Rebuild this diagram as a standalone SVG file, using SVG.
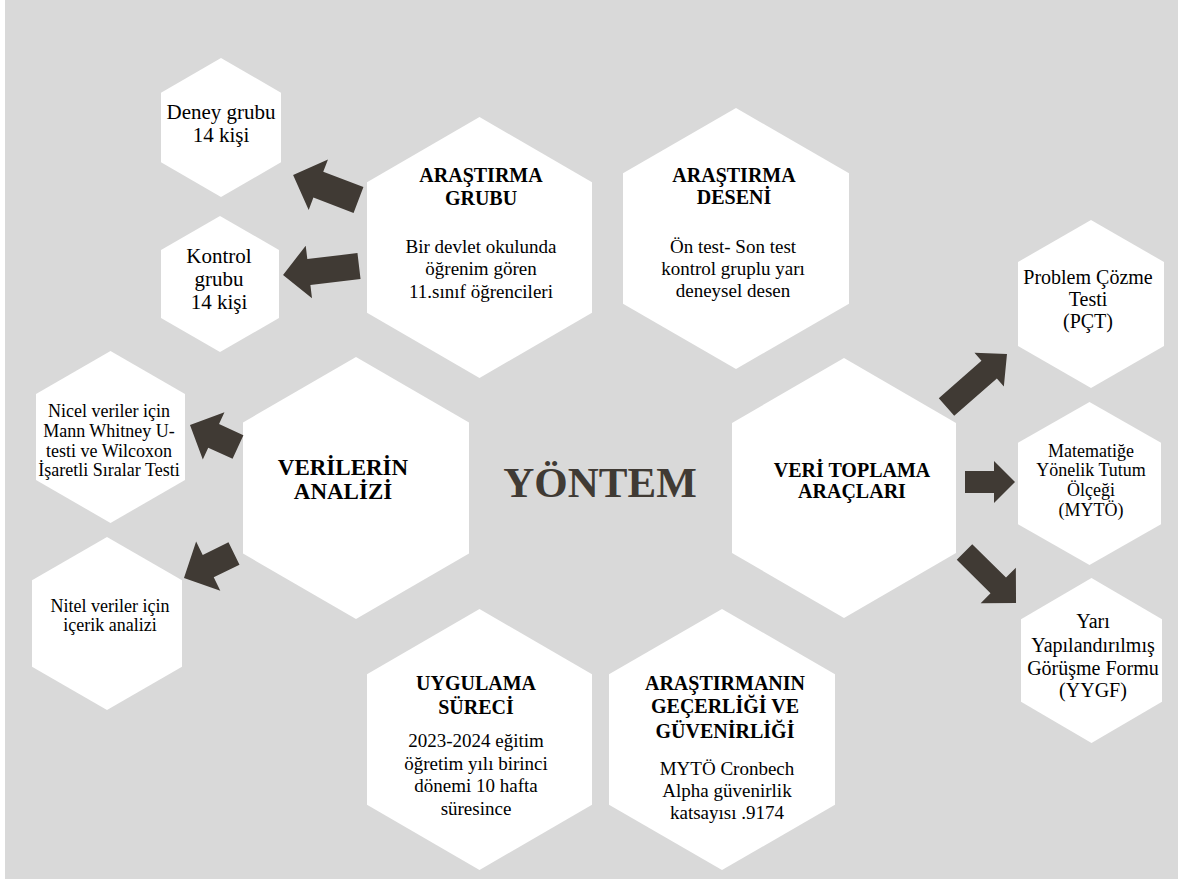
<svg xmlns="http://www.w3.org/2000/svg" width="1178" height="879" viewBox="0 0 1178 879">
<style>
.hex{fill:#ffffff;}
.arr{fill:#403a34;}
text{font-family:"Liberation Serif","Times New Roman",serif;fill:#000;text-anchor:middle;}
.t{font-weight:bold;font-size:20px;}
.b{font-size:19px;}
.s{font-size:20px;}
.m{font-size:18px;}
.main{font-weight:bold;font-size:43px;fill:#403a34;}
</style>
<rect x="0" y="0" width="1178" height="879" fill="#ffffff"/>
<rect x="5" y="0" width="1173" height="879" fill="#d9d9d9"/>

<g id="deney">
<polygon class="hex" points="221,58 281,92.75 281,162.25 221,197 161,162.25 161,92.75"/>
<text class="s" x="221" y="119" style="font-size:21px">Deney grubu</text>
<text class="s" x="221" y="142" style="font-size:21px">14 kişi</text>
</g>
<g id="kontrol">
<polygon class="hex" points="220,216 279,250 279,318 220,352 161,318 161,250"/>
<text class="s" x="219" y="263" style="font-size:21px">Kontrol</text>
<text class="s" x="219" y="286" style="font-size:21px">grubu</text>
<text class="s" x="219" y="309" style="font-size:21px">14 kişi</text>
</g>
<g id="arastirma-grubu">
<polygon class="hex" points="479.5,117 592,182.25 592,312.75 479.5,378 367,312.75 367,182.25"/>
<text class="t" x="481" y="182">ARAŞTIRMA</text>
<text class="t" x="481" y="205">GRUBU</text>
<text class="b" x="481" y="253">Bir devlet okulunda</text>
<text class="b" x="481" y="275">öğrenim gören</text>
<text class="b" x="481" y="298">11.sınıf öğrencileri</text>
</g>
<g id="arastirma-deseni">
<polygon class="hex" points="736,108 849,173.25 849,303.75 736,369 623,303.75 623,173.25"/>
<text class="t" x="734" y="182">ARAŞTIRMA</text>
<text class="t" x="734" y="204">DESENİ</text>
<text class="b" x="733" y="253">Ön test- Son test</text>
<text class="b" x="733" y="275">kontrol gruplu yarı</text>
<text class="b" x="733" y="297">deneysel desen</text>
</g>
<g id="nicel">
<polygon class="hex" points="110.5,351 185,394 185,480 110.5,523 36,480 36,394"/>
<text class="m" x="109" y="417">Nicel veriler için</text>
<text class="m" x="109" y="437">Mann Whitney U-</text>
<text class="m" x="109" y="457">testi ve Wilcoxon</text>
<text class="m" x="109" y="476">İşaretli Sıralar Testi</text>
</g>
<g id="nitel">
<polygon class="hex" points="107,537 182,580.25 182,666.75 107,710 32,666.75 32,580.25"/>
<text class="m" x="110" y="612">Nitel veriler için</text>
<text class="m" x="110" y="631">içerik analizi</text>
</g>
<g id="verilerin-analizi">
<polygon class="hex" points="356,357 469,422.5 469,553.5 356,619 243,553.5 243,422.5"/>
<text class="t" x="343" y="475" style="font-size:23px">VERİLERİN</text>
<text class="t" x="343" y="499" style="font-size:23px">ANALİZİ</text>
</g>
<g id="yontem">
<text class="main" x="600" y="497">YÖNTEM</text>
</g>
<g id="veri-toplama">
<polygon class="hex" points="844,358 956,423 956,553 844,618 732,553 732,423"/>
<text class="t" x="852" y="477">VERİ TOPLAMA</text>
<text class="t" x="852" y="498">ARAÇLARI</text>
</g>
<g id="pct">
<polygon class="hex" points="1091,220 1164,262 1164,346 1091,388 1018,346 1018,262"/>
<text class="s" x="1088" y="284">Problem Çözme</text>
<text class="s" x="1088" y="306">Testi</text>
<text class="s" x="1088" y="328">(PÇT)</text>
</g>
<g id="myto">
<polygon class="hex" points="1089.5,402 1161,442.75 1161,524.25 1089.5,565 1018,524.25 1018,442.75"/>
<text class="m" x="1091" y="457">Matematiğe</text>
<text class="m" x="1091" y="476">Yönelik Tutum</text>
<text class="m" x="1091" y="496">Ölçeği</text>
<text class="m" x="1091" y="516">(MYTÖ)</text>
</g>
<g id="yygf">
<polygon class="hex" points="1091.5,578 1162,619.25 1162,701.75 1091.5,743 1021,701.75 1021,619.25"/>
<text class="s" x="1093" y="628">Yarı</text>
<text class="s" x="1093" y="652">Yapılandırılmış</text>
<text class="s" x="1093" y="675">Görüşme Formu</text>
<text class="s" x="1093" y="697">(YYGF)</text>
</g>
<g id="uygulama">
<polygon class="hex" points="479.5,609 592,674.25 592,804.75 479.5,870 367,804.75 367,674.25"/>
<text class="t" x="476" y="690">UYGULAMA</text>
<text class="t" x="476" y="714">SÜRECİ</text>
<text class="b" x="476" y="747">2023-2024 eğitim</text>
<text class="b" x="476" y="770">öğretim yılı birinci</text>
<text class="b" x="476" y="792">dönemi 10 hafta</text>
<text class="b" x="476" y="815">süresince</text>
</g>
<g id="gecerlik">
<polygon class="hex" points="722,609 835,674.25 835,804.75 722,870 609,804.75 609,674.25"/>
<text class="t" x="725" y="690">ARAŞTIRMANIN</text>
<text class="t" x="725" y="713">GEÇERLİĞİ VE</text>
<text class="t" x="725" y="738">GÜVENİRLİĞİ</text>
<text class="b" x="727" y="775">MYTÖ Cronbech</text>
<text class="b" x="727" y="797">Alpha güvenirlik</text>
<text class="b" x="727" y="819">katsayısı .9174</text>
</g>

<g id="connectors">
<polygon class="arr" transform="translate(358.5,200) rotate(200.9)" points="0,-13.8 43,-13.8 43,-27 70,0 43,27 43,13.8 0,13.8"/>
<polygon class="arr" transform="translate(359,266) rotate(173.2)" points="0,-13 50.5,-13 50.5,-26.5 76.5,0 50.5,26.5 50.5,13 0,13"/>
<polygon class="arr" transform="translate(238,447) rotate(204.6)" points="0,-13 26.8,-13 26.8,-26 52.8,0 26.8,26 26.8,13 0,13"/>
<polygon class="arr" transform="translate(234,553.5) rotate(153.9)" points="0,-12.5 28.7,-12.5 28.7,-27.5 55.7,0 28.7,27.5 28.7,12.5 0,12.5"/>
<polygon class="arr" transform="translate(946.5,407) rotate(-41.2)" points="0,-11.7 56.7,-11.7 56.7,-22.3 80.4,0 56.7,22.3 56.7,11.7 0,11.7"/>
<polygon class="arr" transform="translate(965,482)" points="0,-11 29,-11 29,-21 50,0 29,21 29,11 0,11"/>
<polygon class="arr" transform="translate(964.5,552) rotate(44.7)" points="0,-11 47.5,-11 47.5,-25 72.5,0 47.5,25 47.5,11 0,11"/>
</g>
</svg>
